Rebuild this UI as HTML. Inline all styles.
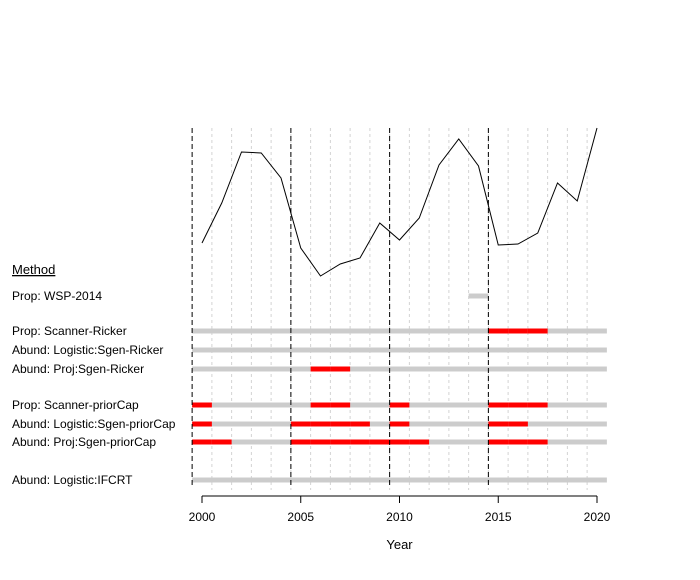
<!DOCTYPE html>
<html><head><meta charset="utf-8"><style>
body{margin:0;background:#fff;}
svg{display:block;font-family:"Liberation Sans",Arial,sans-serif;}
</style></head><body>
<svg id="chart" width="700" height="580" viewBox="0 0 700 580"></svg>
<script>
const years=[2000,2001,2002,2003,2004,2005,2006,2007,2008,2009,2010,2011,2012,2013,2014,2015,2016,2017,2018,2019,2020];
const abundance=[57,97,148,147,122,52,24,36,42,77,60,82,135,161,134,55,56,67,117,99,172];
const methods=["Prop: WSP-2014","Prop: Scanner-Ricker","Abund: Logistic:Sgen-Ricker","Abund: Proj:Sgen-Ricker","Prop: Scanner-priorCap","Abund: Logistic:Sgen-priorCap","Abund: Proj:Sgen-priorCap","Abund: Logistic:IFCRT"];
const rowY=[296,331,350,369,405,424,442,480];
const coverage=[[2014,2014],[2000,2020],[2000,2020],[2000,2020],[2000,2020],[2000,2020],[2000,2020],[2000,2020]];
const redYears=[[],[2015,2016,2017],[],[2006,2007],[2000,2006,2007,2010,2015,2016,2017],[2000,2005,2006,2007,2008,2010,2015,2016],[2000,2001,2005,2006,2007,2008,2009,2010,2011,2015,2016,2017],[]];
const breakYears=[1999.5,2004.5,2009.5,2014.5];
const xTicks=[2000,2005,2010,2015,2020];

const NS="http://www.w3.org/2000/svg";
const svg=document.getElementById('chart');
const X=y=>202+(y-2000)*19.75;
const Y=v=>300-v;
function mk(t,a,p){const e=document.createElementNS(NS,t);for(const k in a)e.setAttribute(k,a[k]);(p||svg).appendChild(e);return e;}

// dotted year grid (half-years)
for(let y=2000.5;y<2020;y+=1){
  const l=mk('line',{x1:X(y),x2:X(y),y1:128,y2:490,stroke:'#d3d3d3','stroke-dasharray':'3,3','stroke-width':1});
  
  
}
// bars
methods.forEach((m,i)=>{
  const g=mk('line',{x1:X(coverage[i][0]-0.5),x2:X(coverage[i][1]+0.5),y1:rowY[i],y2:rowY[i],stroke:'#cccccc','stroke-width':5});
  
  
  redYears[i].forEach(y=>{
    const r=mk('line',{x1:X(y-0.5),x2:X(y+0.5),y1:rowY[i],y2:rowY[i],stroke:'#ff0000','stroke-width':5});
    
    
  });
  const t=mk('text',{x:12,y:rowY[i]+4,'font-size':12,fill:'#000'});
  t.textContent=m;
  
  
});
// dashed breaks
breakYears.forEach(y=>{
  const l=mk('line',{x1:X(y),x2:X(y),y1:128,y2:488,stroke:'#000','stroke-dasharray':'5,3','stroke-width':1});
  
  
});
// abundance line
const pl=mk('polyline',{points:years.map((y,i)=>X(y)+','+Y(abundance[i])).join(' '),fill:'none',stroke:'#000','stroke-width':1});


// header
const h=mk('text',{x:12,y:274,'font-size':13,'text-decoration':'underline'});
h.textContent='Method';


// x axis
const ax=mk('line',{x1:X(2000),x2:X(2020),y1:496,y2:496,stroke:'#000'});


xTicks.forEach(y=>{
  const tk=mk('line',{x1:X(y),x2:X(y),y1:496,y2:503,stroke:'#000'});
  
  
  const tl=mk('text',{x:X(y),y:521,'font-size':12,'text-anchor':'middle'});
  tl.textContent=y;
  
  
});
const xt=mk('text',{x:X(2010),y:549,'font-size':13,'text-anchor':'middle'});
xt.textContent='Year';


</script>
</body></html>
